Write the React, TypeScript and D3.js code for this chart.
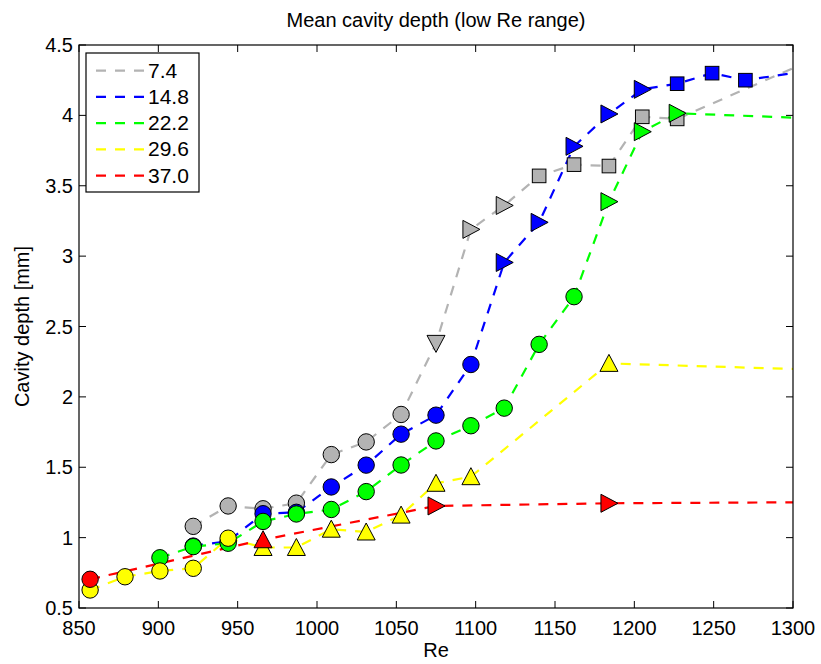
import React from 'react'
import * as d3 from 'd3'

// Re grid (last value is the end of the lines, no marker there)
const reGrid = [857, 879, 901, 922, 944, 966, 987, 1009, 1031, 1053, 1075, 1097, 1118, 1140, 1162, 1184, 1205, 1227, 1249, 1270, 1300]

// depth values per series, null = no data at that Re
const depth74 = [null, null, null, 1.08, 1.225, 1.205, 1.245, 1.59, 1.68, 1.875, 2.38, 3.19, 3.36, 3.57, 3.65, 3.64, 3.99, 3.975, null, null, 4.335]
const depth148 = [null, null, null, 0.94, 0.975, 1.17, 1.18, 1.36, 1.515, 1.735, 1.87, 2.23, 2.955, 3.24, 3.78, 4.01, 4.185, 4.225, 4.30, 4.25, 4.30]
const depth222 = [null, null, 0.857, 0.936, 0.96, 1.115, 1.168, 1.20, 1.327, 1.516, 1.687, 1.795, 1.92, 2.373, 2.712, 3.387, 3.884, 4.015, null, null, 3.984]
const depth296 = [0.628, 0.722, 0.763, 0.782, 0.996, 0.93, 0.93, 1.06, 1.04, 1.16, 1.386, 1.433, null, null, null, 2.238, null, null, null, null, 2.198]
const depth370 = [0.704, null, null, null, null, 0.985, null, null, null, null, 1.225, null, null, null, null, 1.244, null, null, null, null, 1.251]

// marker per grid point: o circle, v down, > right, ^ up, s square, - none
const marks74 = '- - - o o o o o o o v > > s s s s s - - -'.split(' ')
const marks148 = '- - - o o o o o o o o o > > > > > s s s -'.split(' ')
const marks222 = '- - o o o o o o o o o o o o o > > > - - -'.split(' ')
const marks296 = 'o o o o o ^ ^ ^ ^ ^ ^ ^ - - - ^ - - - - -'.split(' ')
const marks370 = 'o - - - - ^ - - - - > - - - - > - - - - -'.split(' ')

const seriesNames = ['7.4', '14.8', '22.2', '29.6', '37.0']
const seriesColors = ['#b3b3b3', '#0000ff', '#00ff00', '#ffff00', '#ff0000']
const seriesDepths = [depth74, depth148, depth222, depth296, depth370]
const seriesMarks = [marks74, marks148, marks222, marks296, marks370]

const xTicks = [850, 900, 950, 1000, 1050, 1100, 1150, 1200, 1250, 1300]
const yTicks = [0.5, 1, 1.5, 2, 2.5, 3, 3.5, 4, 4.5]

const W = 821, H = 664
const m = { left: 79, right: 793, top: 45, bottom: 608 }
const font = 'Liberation Sans, Arial, Helvetica, sans-serif'

function Marker({ kind, x, y, fill }: { kind: string, x: number, y: number, fill: string }) {
    const st = { fill, stroke: '#000', strokeWidth: 1 }
    if (kind === 'o') return <circle cx={x} cy={y} r={8.2} {...st} />
    if (kind === 's') return <rect x={x - 6.8} y={y - 6.8} width={13.6} height={13.6} {...st} />
    let pts = ''
    if (kind === '^') pts = `${x},${y - 9} ${x + 9},${y + 8} ${x - 9},${y + 8}`
    if (kind === 'v') pts = `${x},${y + 9} ${x + 9},${y - 8} ${x - 9},${y - 8}`
    if (kind === '>') pts = `${x + 9},${y} ${x - 8},${y + 9} ${x - 8},${y - 9}`
    if (!pts) return null
    return <polygon points={pts} {...st} />
}

export default function App() {
    const x = d3.scaleLinear().domain([850, 1300]).range([m.left, m.right])
    const y = d3.scaleLinear().domain([0.5, 4.5]).range([m.bottom, m.top])

    const line = d3.line<[number, number]>()
        .x(d => x(d[0]))
        .y(d => y(d[1]))

    const series = seriesNames.map((name, i) => {
        const pts = reGrid
            .map((re, j) => ({ re, v: seriesDepths[i][j], mk: seriesMarks[i][j] || '-' }))
            .filter(p => p.v !== null) as { re: number, v: number, mk: string }[]
        return { name, color: seriesColors[i], pts }
    })

    return (
        <svg width={W} height={H} style={{ position: 'absolute', left: 0, top: 0, background: '#fff' }} fontFamily={font}>
            <rect x={0} y={0} width={W} height={H} fill='#fff' />
            <defs>
                <clipPath id='plotclip'>
                    <rect x={m.left} y={m.top} width={m.right - m.left} height={m.bottom - m.top} />
                </clipPath>
            </defs>

            {/* lines */}
            <g clipPath='url(#plotclip)'>
                {series.map((s, i) => (
                    <path key={i} d={line(s.pts.map(p => [p.re, p.v] as [number, number])) || ''}
                        fill='none' stroke={s.color} strokeWidth={2.2} strokeDasharray='10,9' />
                ))}
            </g>
            {/* markers */}
            {series.map((s, i) => (
                <g key={i}>
                    {s.pts.map((p, j) => <Marker key={j} kind={p.mk} x={x(p.re)} y={y(p.v)} fill={s.color} />)}
                </g>
            ))}

            {/* axes box and ticks */}
            <rect x={m.left} y={m.top} width={m.right - m.left} height={m.bottom - m.top} fill='none' stroke='#000' strokeWidth={1.2} />
            {xTicks.map((t, i) => (
                <g key={i}>
                    <line x1={x(t)} x2={x(t)} y1={m.bottom} y2={m.bottom - 7} stroke='#000' />
                    <line x1={x(t)} x2={x(t)} y1={m.top} y2={m.top + 7} stroke='#000' />
                    <text x={x(t)} y={635} textAnchor='middle' fontSize={20}>{t}</text>
                </g>
            ))}
            {yTicks.map((t, i) => (
                <g key={i}>
                    <line x1={m.left} x2={m.left + 7} y1={y(t)} y2={y(t)} stroke='#000' />
                    <line x1={m.right} x2={m.right - 7} y1={y(t)} y2={y(t)} stroke='#000' />
                    <text x={73} y={y(t) + 7} textAnchor='end' fontSize={20}>{t}</text>
                </g>
            ))}

            {/* labels */}
            <text x={(m.left + m.right) / 2} y={27} textAnchor='middle' fontSize={20}>Mean cavity depth (low Re range)</text>
            <text x={(m.left + m.right) / 2} y={657} textAnchor='middle' fontSize={20}>Re</text>
            <text transform={`translate(29,${(m.top + m.bottom) / 2}) rotate(-90)`} textAnchor='middle' fontSize={20}>Cavity depth [mm]</text>

            {/* legend */}
            <rect x={86} y={53} width={113} height={139} fill='#fff' stroke='#000' strokeWidth={1.2} />
            {series.map((s, i) => (
                <g key={i} transform={`translate(0,${70.7 + i * 26.25})`}>
                    <line x1={96} x2={144} y1={0} y2={0} stroke={s.color} strokeWidth={2.2} strokeDasharray='10,9' />
                    <text x={148} y={7} fontSize={21}>{s.name}</text>
                </g>
            ))}
        </svg>
    )
}
